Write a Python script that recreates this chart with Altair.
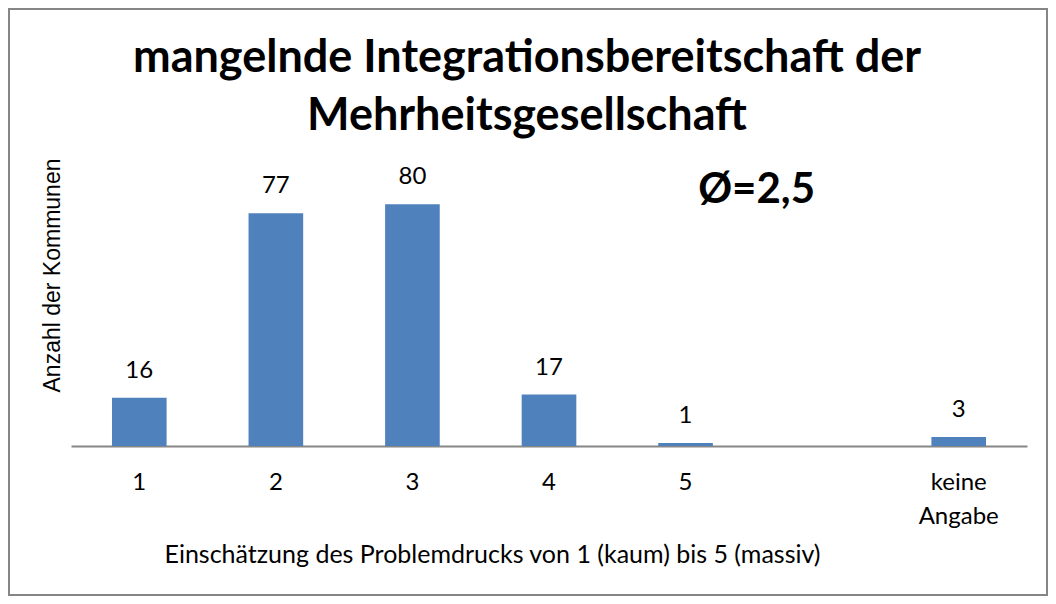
import altair as alt
import pandas as pd

categories = ["1", "2", "3", "4", "5", "", "keine Angabe"]
values = [16, 77, 80, 17, 1, None, 3]
title_lines = ["mangelnde Integrationsbereitschaft der", "Mehrheitsgesellschaft"]
avg_text = ["Ø=2,5"]
avg_pos_cat = ["5"]
avg_pos_val = [84.6]
x_title = "Einschätzung des Problemdrucks von 1 (kaum) bis 5 (massiv)"
y_title = "Anzahl der Kommunen"

df = pd.DataFrame({"kat": categories, "anzahl": values}).dropna()
df_avg = pd.DataFrame({"kat": avg_pos_cat, "anzahl": avg_pos_val, "txt": avg_text})

W, H = 956, 272
PL, PT, PR, PB = 63, 166, 21, 150

xenc = alt.X(
    "kat:N",
    scale=alt.Scale(domain=categories, paddingInner=0.6, paddingOuter=0.3),
    sort=categories,
    axis=alt.Axis(
        title=x_title,
        titleFont="Lato",
        titleFontSize=25,
        titleFontWeight="normal",
        titleColor="#000000",
        titleX=421,
        titleY=108,
        titleAlign="center",
        titleBaseline="middle",
        labelAngle=0,
        labelFont="Lato",
        labelFontSize=24,
        labelColor="#000000",
        labelPadding=24,
        labelLineHeight=34,
        labelExpr="split(datum.label, ' ')",
        ticks=False,
        domainColor="#868686",
        domainWidth=2,
        grid=False,
    ),
)
yscale = alt.Scale(domain=[0, 90], nice=False)
yenc = alt.Y(
    "anzahl:Q",
    scale=yscale,
    axis=alt.Axis(
        title=y_title,
        titleFont="Liberation Sans",
        titleFontSize=23,
        titleFontWeight="normal",
        titleColor="#000000",
        titleX=-19,
        titleY=101,
        titleAlign="center",
        titleBaseline="middle",
        labels=False,
        ticks=False,
        domain=False,
        grid=False,
    ),
)

bars = alt.Chart(df).mark_bar(color="#4f81bd").encode(x=xenc, y=yenc)

labels = alt.Chart(df).mark_text(
    font="Lato", fontSize=24, color="#000000", baseline="middle", dy=-27
).encode(x=alt.X("kat:N", sort=categories), y=alt.Y("anzahl:Q"), text=alt.Text("anzahl:Q", format="d"))

avg = alt.Chart(df_avg).mark_text(
    font="Lato", fontSize=42, fontWeight="bold", color="#000000", baseline="middle", dx=71
).encode(x=alt.X("kat:N", sort=categories), y=alt.Y("anzahl:Q"), text="txt:N")

title = alt.Chart(pd.DataFrame({"k": [0]})).mark_text(
    text=title_lines, font="Lato", fontSize=45, fontWeight="bold", color="#000000",
    align="center", baseline="alphabetic", lineHeight=58,
).encode(x=alt.value(456), y=alt.value(-102))

frame = alt.Chart(pd.DataFrame({"k": [0]})).mark_rect(
    filled=False, stroke="#868686", strokeWidth=2
).encode(
    x=alt.value(-PL + 1), x2=alt.value(W + PR - 1),
    y=alt.value(-PT + 1), y2=alt.value(H + PB - 1),
)

chart = (
    alt.layer(frame, title, bars, labels, avg)
    .properties(
        width=W,
        height=H,
        padding={"left": PL, "top": PT, "right": PR, "bottom": PB},
        autosize=alt.AutoSizeParams(type="none"),
    )
    .configure(background="#ffffff")
    .configure_view(stroke="transparent", strokeWidth=0)
)

chart.save("out.html", embed_options={"renderer": "svg", "actions": False})
